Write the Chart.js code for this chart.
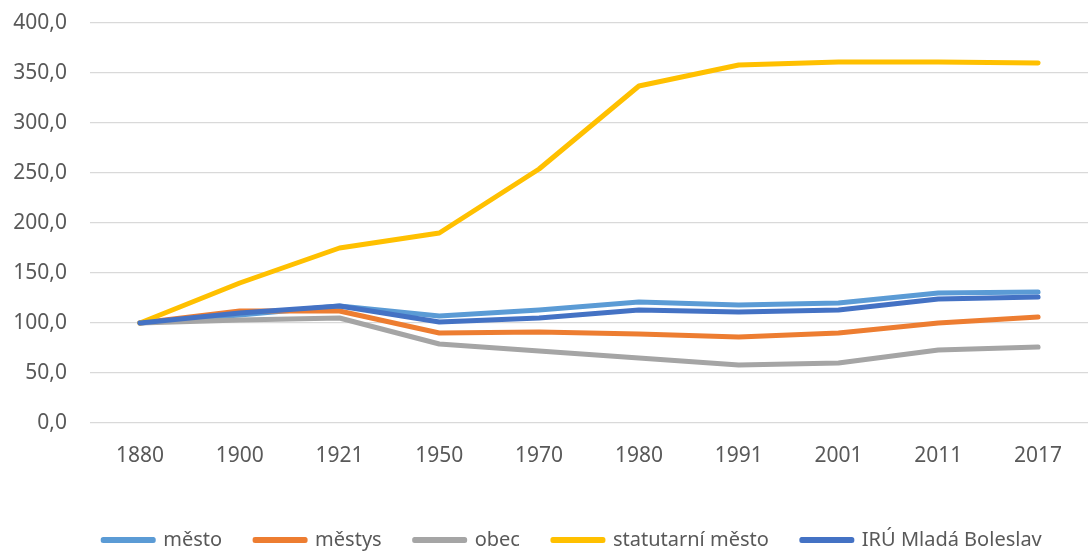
<!DOCTYPE html>
<html>
<head>
<meta charset="utf-8">
<script src="https://cdn.jsdelivr.net/npm/chart.js@4.4.0/dist/chart.umd.min.js"></script>
<style>
  html, body { margin: 0; padding: 0; background: #fff; }
  #wrap { width: 1088px; height: 552px; }
</style>
</head>
<body>
<div id="wrap"><canvas id="chartCanvas" width="1088" height="552"></canvas></div>
<script>
// data
const years = ['1880', '1900', '1921', '1950', '1970', '1980', '1991', '2001', '2011', '2017'];
const mesto = [100, 108, 117, 107, 113, 121, 118, 120, 130, 131];
const mestys = [100, 112, 112, 90, 91, 89, 86, 90, 100, 106];
const obec = [100, 103, 105, 79, 72, 65, 58, 60, 73, 76];
const statutarni = [100, 140, 175, 190, 254, 337, 358, 361, 361, 360];
const iru = [100, 110, 117, 101, 105, 113, 111, 113, 124, 126];
const seriesNames = ['město', 'městys', 'obec', 'statutarní město', 'IRÚ Mladá Boleslav'];
const seriesColors = ['#5B9BD5', '#ED7D31', '#A5A5A5', '#FFC000', '#4472C4'];
const yTicks = [0, 50, 100, 150, 200, 250, 300, 350, 400];

Chart.defaults.font.family = "'Noto Sans', sans-serif";
Chart.defaults.font.size = 21;
Chart.defaults.color = '#595959';

function makeSet(i, values) {
    return {
        label: seriesNames[i],
        data: values,
        borderColor: seriesColors[i],
        backgroundColor: seriesColors[i],
        borderWidth: 5,
        borderCapStyle: 'round',
        borderJoinStyle: 'round',
        pointRadius: 0,
        tension: 0,
        fill: false,
        order: 5 - i  // later series on top, like the original
    };
}

// nudges the legend row to where the original has it
const legendShift = {
    id: 'legendShift',
    afterLayout(chart) {
        chart.legend.left += 27;
        chart.legend.right += 27;
    }
};

const ctx = document.getElementById('chartCanvas').getContext('2d');
const chart = new Chart(ctx, {
    type: 'line',
    data: {
        labels: years,
        datasets: [
            makeSet(0, mesto),
            makeSet(1, mestys),
            makeSet(2, obec),
            makeSet(3, statutarni),
            makeSet(4, iru)
        ]
    },
    options: {
        responsive: false,
        animation: false,
        layout: { padding: { top: 23, right: -3, bottom: 0, left: 0 } },
        scales: {
            x: {
                offset: true,
                grid: { display: false, drawTicks: false },
                border: { display: false },
                ticks: { padding: 20, maxRotation: 0 },
                afterFit(axis) { axis.height = 74; }
            },
            y: {
                min: 0,
                max: 400,
                afterBuildTicks(axis) { axis.ticks = yTicks.map(v => ({ value: v })); },
                grid: { color: '#D9D9D9', lineWidth: 1.3, drawTicks: true, tickLength: 23, tickColor: 'rgba(0,0,0,0)' },
                border: { display: false },
                ticks: {
                    padding: 0,
                    callback: v => v.toFixed(1).replace('.', ',')
                },
                afterFit(axis) { axis.width = 90; }
            }
        },
        plugins: {
            legend: {
                position: 'bottom',
                maxHeight: 55,
                labels: {
                    font: { size: 20 },
                    boxWidth: 50,
                    boxHeight: 1,
                    useBorderRadius: true,
                    borderRadius: 1,
                    padding: 33,
                    sort: (a, b) => a.datasetIndex - b.datasetIndex
                }
            },
            tooltip: { enabled: false }
        }
    },
    plugins: [legendShift]
});
</script>
</body>
</html>
